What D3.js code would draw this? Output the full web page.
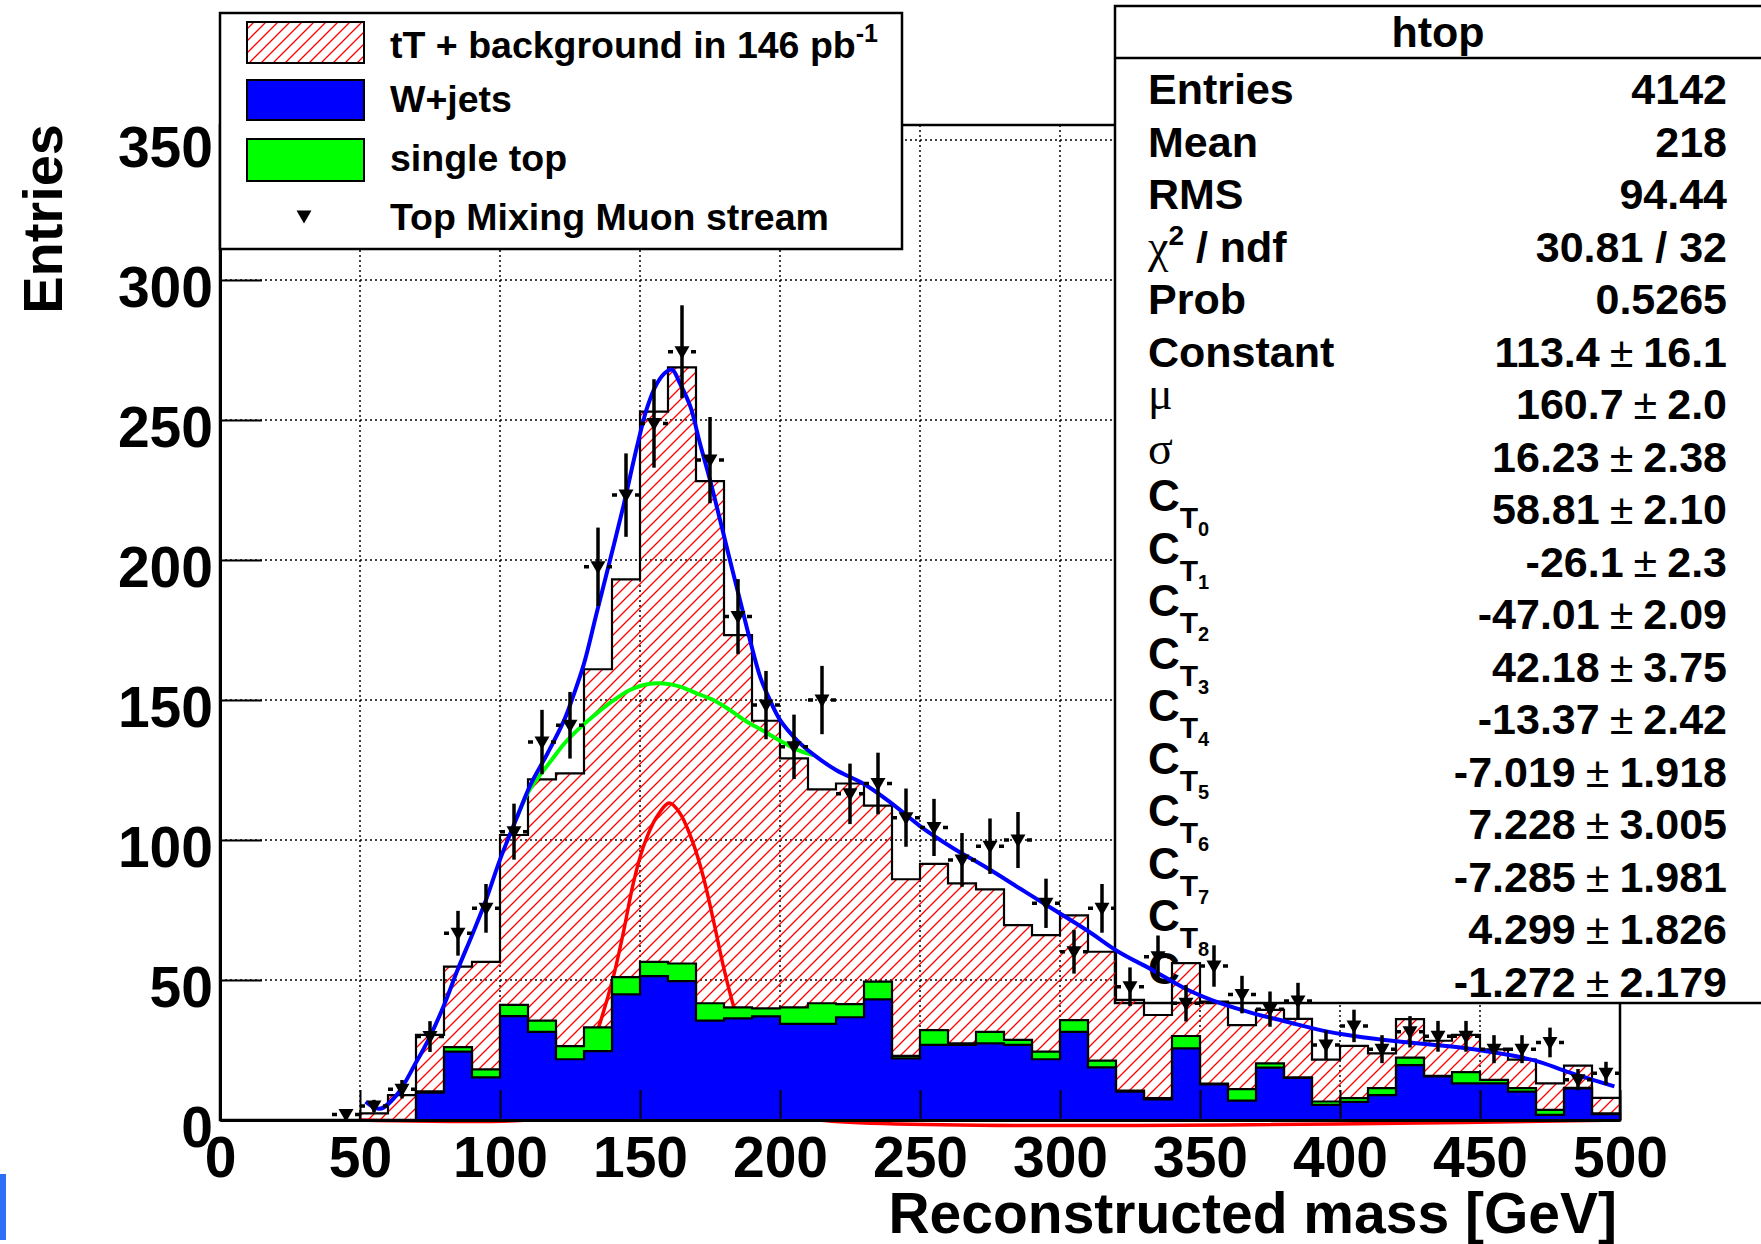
<!DOCTYPE html>
<html>
<head>
<meta charset="utf-8">
<script src="https://cdn.jsdelivr.net/npm/d3@7"></script>
<style>
  body { margin: 0; background: #fff; }
  svg { display: block; font-family: "Liberation Sans", Arial, Helvetica, sans-serif; font-weight: bold; }
</style>
</head>
<body>
<svg id="chart" width="1761" height="1244"></svg>
<script>
// histogram bins: low edges in GeV, 10 GeV wide
var binLow = [50, 60, 70, 80, 90, 100, 110, 120, 130, 140, 150, 160, 170, 180, 190,
  200, 210, 220, 230, 240, 250, 260, 270, 280, 290, 300, 310, 320, 330, 340,
  350, 360, 370, 380, 390, 400, 410, 420, 430, 440, 450, 460, 470, 480, 490];
var binWidth = 10;

// tT + background (hatched, total)
var ttTotal = [2.4, 8.9, 30.4, 54.8, 56.5, 101.8, 121.7, 123.8, 161, 193.1, 253, 268.8, 228.2, 173.2, 142.6,
  129.2, 118.1, 120.2, 112.3, 86, 91.5, 84.5, 82.4, 69.6, 66, 73.1, 60.1, 42.9, 37.5, 56,
  42.3, 33.9, 39.3, 36.1, 21.6, 26.5, 23.8, 36, 28.3, 30.4, 25.2, 21.6, 13.1, 19.4, 7.9];
// W+jets (blue)
var wJets = [0, 0, 9.8, 24.4, 15.2, 37.1, 31.5, 21.7, 24.6, 44.9, 51.4, 49.6, 35.5, 36.3, 37.0,
  34.3, 34.3, 36.7, 43.1, 22.0, 26.8, 26.8, 27.4, 26.8, 21.7, 31.5, 18.8, 10.1, 7.4, 25.6,
  12.7, 6.9, 18.7, 15.0, 5.4, 6.5, 8.9, 19.6, 15.6, 13.1, 13.1, 10.1, 1.8, 11.3, 2.1];
// single top (green, stacked on W+jets)
var singleTop = [0, 0, 0.4, 1.6, 2.9, 4.0, 4.0, 4.7, 8.5, 6.1, 5.1, 6.3, 6.2, 3.9, 2.9,
  5.9, 7.4, 4.7, 6.3, 0.9, 5.3, 0.6, 4.1, 1.8, 2.7, 4.2, 2.4, 0.4, 0.4, 4.4,
  0.3, 4.1, 1.5, 0.2, 1.2, 1.3, 2.5, 2.7, 0.2, 4.0, 1.2, 1.3, 1.8, 0.2, 0.3];

// Top Mixing Muon stream data points
var dataGeV = [45, 55, 65, 75, 85, 95, 105, 115, 125, 135, 145, 155, 165, 175, 185, 195,
  205, 215, 225, 235, 245, 255, 265, 275, 285, 295, 305, 315, 325, 335, 345, 355,
  365, 375, 385, 395, 405, 415, 425, 435, 445, 455, 465, 475, 485, 495];
var dataValues = [2, 5, 11, 29.8, 66.7, 75.6, 103, 135, 141, 197.6, 223.2, 248.8, 274.4, 235.7, 179.8, 148.2,
  133.3, 150, 116.5, 120.2, 108, 104.5, 92.9, 97.8, 100, 77.4, 60.1, 75.6, 47.6, 58.3, 41.7, 55,
  44.8, 39.6, 42.5, 26.8, 33.6, 25.3, 31.5, 29.9, 29.9, 25.3, 25.3, 27.7, 14.4, 16.7];
var dataErrors = [1.4, 2.2, 3.3, 5.5, 8, 8.7, 10, 11.5, 11.9, 14, 14.9, 15.8, 16.6, 15.4, 13.4, 12.2,
  11.5, 12.2, 10.8, 11, 10.4, 10.2, 9.6, 9.9, 10, 8.8, 7.8, 8.7, 6.9, 7.6, 6.5, 7.4,
  6.7, 6.3, 6.5, 5.2, 5.8, 5, 5.6, 5.5, 5.5, 5, 5, 5.3, 3.8, 4.1];

// total fit (blue)
var fitGeV = [52, 57, 63, 70, 75, 80, 85, 90, 95, 100, 106, 111, 117, 123, 126, 130, 134.5, 139.3, 144, 148.8,
  152.4, 156, 159.5, 161.5, 164.3, 168, 171.4, 175, 178.6, 182.1, 185.7, 189.3, 193, 196.4, 200, 206, 212,
  220, 230, 240, 250, 262, 274, 286, 298, 310, 321, 333, 345, 357, 369, 381, 393, 405, 421, 445, 469, 481, 498];
var fitValues = [6.5, 4, 8.8, 20.5, 29.8, 41, 54, 66, 78.6, 93, 108, 120, 131, 143, 151, 163, 181, 200, 219, 240,
  254, 263, 267.3, 268, 263, 254.8, 241.7, 228.6, 214.3, 200, 185.7, 171.4, 158, 150, 142.9, 135.7, 130.5,
  125, 120, 113, 105, 97, 90, 82.5, 75, 67.5, 60, 53.6, 46.8, 41.8, 38.1, 35.1, 32.1, 30, 28, 25.6, 21.4, 17.3, 12];
// background part of the fit (green)
var bkgGeV = [106, 110, 113, 118, 123, 129, 134.5, 140, 146.4, 151, 156, 161, 164.3, 170, 176.2, 182, 188.1, 194, 200, 206, 212];
var bkgValues = [108, 117, 121.5, 128, 134.5, 140.5, 145.2, 149.5, 153.6, 155.3, 156, 155.6, 154.8, 152.5, 150, 146.5, 142.3, 139, 135.5, 132.3, 130.3];
// gaussian signal part (red)
var sigGeV = [50, 110, 120, 128, 135.7, 140.5, 144, 147.6, 151.2, 156, 160.5, 164.3, 169, 172.6, 176.2, 179.8, 183.3, 190, 200, 212, 500];
var sigValues = [0, 0.1, 2.5, 13, 34.6, 51.2, 66.7, 84.5, 97.6, 108.3, 113.2, 109.5, 98.8, 86.9, 71.4, 54.8, 41.1, 20, 4, 0.3, 0];

var xTicks = [0, 50, 100, 150, 200, 250, 300, 350, 400, 450, 500];
var yTicks = [0, 50, 100, 150, 200, 250, 300, 350];

// stats box
var statNames = ["Entries", "Mean", "RMS", "chi2", "Prob", "Constant", "mu", "sigma",
  "C0", "C1", "C2", "C3", "C4", "C5", "C6", "C7", "C8", "last"];
var statValues = [["4142"], ["218"], ["94.44"], ["30.81 / 32"], ["0.5265"], ["113.4", "16.1"], ["160.7", "2.0"],
  ["16.23", "2.38"], ["58.81", "2.10"], ["-26.1", "2.3"], ["-47.01", "2.09"], ["42.18", "3.75"],
  ["-13.37", "2.42"], ["-7.019", "1.918"], ["7.228", "3.005"], ["-7.285", "1.981"], ["4.299", "1.826"], ["-1.272", "2.179"]];

var svg = d3.select("#chart");
var frame = {left: 220, right: 1620, top: 125, bottom: 1120};

var x = d3.scaleLinear().domain([0, 500]).range([frame.left, frame.right]);
var y = d3.scaleLinear().domain([0, 355.4]).range([frame.bottom, frame.top]);

svg.append("rect").attr("width", 1761).attr("height", 1244).attr("fill", "#fff");

var defs = svg.append("defs");
var hs = 12;
var hatch = defs.append("pattern")
  .attr("id", "hatch")
  .attr("patternUnits", "userSpaceOnUse")
  .attr("width", hs).attr("height", hs);
hatch.append("path")
  .attr("d", "M-2,2 L2,-2 M0," + hs + " L" + hs + ",0 M" + (hs - 2) + "," + (hs + 2) + " L" + (hs + 2) + "," + (hs - 2))
  .attr("stroke", "#ff0000").attr("stroke-width", 1.3);

// grid
var grid = svg.append("g").attr("stroke", "#000").attr("stroke-width", 1.5).attr("stroke-dasharray", "2,3");
grid.selectAll("line.v").data(xTicks.slice(1, -1)).enter().append("line")
  .attr("x1", function(d) { return x(d); }).attr("x2", function(d) { return x(d); })
  .attr("y1", frame.top).attr("y2", frame.bottom);
grid.selectAll("line.h").data(yTicks.slice(1)).enter().append("line")
  .attr("x1", frame.left).attr("x2", frame.right)
  .attr("y1", function(d) { return y(d); }).attr("y2", function(d) { return y(d); });

svg.append("rect")
  .attr("x", frame.left).attr("y", frame.top)
  .attr("width", frame.right - frame.left).attr("height", frame.bottom - frame.top)
  .attr("fill", "none").attr("stroke", "#000").attr("stroke-width", 2.5);

// stats box
var stats = svg.append("g");
stats.append("rect").attr("x", 1115).attr("y", 6).attr("width", 700).attr("height", 997)
  .attr("fill", "#fff").attr("stroke", "#000").attr("stroke-width", 2.5);
stats.append("line").attr("x1", 1115).attr("x2", 1761).attr("y1", 58).attr("y2", 58)
  .attr("stroke", "#000").attr("stroke-width", 2.5);
stats.append("text").attr("x", 1438).attr("y", 47).attr("text-anchor", "middle")
  .attr("font-size", 43).text("htop");

var rowY = function(i) { return 88.7 + 52.5 * i + 15.5; };
statNames.forEach(function(name, i) {
  var t = stats.append("text").attr("x", 1148).attr("y", rowY(i)).attr("font-size", 43);
  if (name === "chi2") {
    t.append("tspan").attr("font-family", "Liberation Serif").attr("font-weight", "normal").attr("font-size", 46).text("\u03c7");
    t.append("tspan").attr("font-size", 28).attr("dy", -17).text("2");
    t.append("tspan").attr("dy", 17).text(" / ndf");
  } else if (name === "mu") {
    t.attr("y", rowY(i) - 10).attr("font-family", "Liberation Serif").attr("font-weight", "normal").attr("font-size", 46).text("\u03bc");
  } else if (name === "sigma") {
    t.attr("y", rowY(i) - 8).attr("font-family", "Liberation Serif").attr("font-weight", "normal").attr("font-size", 46).text("\u03c3");
  } else if (name.charAt(0) === "C" && name.length === 2) {
    t.attr("y", rowY(i) - 13);
    t.append("tspan").attr("font-size", 44).text("C");
    t.append("tspan").attr("font-size", 30).attr("dy", 17).text("T");
    t.append("tspan").attr("font-size", 20).attr("dy", 8).text(name.charAt(1));
  } else if (name === "last") {
    // last label sits under the data, only its "C" shows
    t.attr("y", rowY(i) - 13).attr("font-size", 44).text("C");
  } else {
    t.text(name);
  }
});
statValues.forEach(function(v, i) {
  var t = stats.append("text").attr("x", 1727).attr("y", rowY(i)).attr("text-anchor", "end").attr("font-size", 43);
  t.append("tspan").text(v[0]);
  if (v.length > 1) {
    t.append("tspan").attr("dx", 10).attr("font-weight", "normal").text("\u00b1");
    t.append("tspan").attr("dx", 10).text(v[1]);
  }
});

// histograms
var bins = binLow.map(function(b, i) {
  return {x0: b, tot: ttTotal[i], wjets: wJets[i], stop: singleTop[i]};
});
var lastEdge = binLow[binLow.length - 1] + binWidth;

function stepArea(getV) {
  var pts = bins.map(function(d) { return [d.x0, getV(d)]; });
  pts.push([lastEdge, getV(bins[bins.length - 1])]);
  return d3.area().curve(d3.curveStepAfter)
    .x(function(p) { return x(p[0]); })
    .y0(y(0)).y1(function(p) { return y(p[1]); })(pts);
}

svg.append("path").attr("d", stepArea(function(d) { return d.tot; }))
  .attr("fill", "url(#hatch)").attr("stroke", "#000").attr("stroke-width", 2.2);

var line = d3.line().curve(d3.curveCatmullRom.alpha(0.5))
  .x(function(p) { return x(p[0]); }).y(function(p) { return y(p[1]); });

svg.append("path").attr("d", line(sigGeV.map(function(g, i) { return [g, sigValues[i]]; })))
  .attr("fill", "none").attr("stroke", "#ff0000").attr("stroke-width", 3.5);

// W+jets and single top stacked
var stacked = d3.stack().keys(["wjets", "stop"])(bins);
svg.append("path").attr("d", stepArea(function(d) { return d.wjets + d.stop; }))
  .attr("fill", "#00ff00").attr("stroke", "#000").attr("stroke-width", 2.2);
svg.append("path").attr("d", stepArea(function(d) { return d.wjets; }))
  .attr("fill", "#0000ff").attr("stroke", "#000").attr("stroke-width", 2.2);

// fit curves
svg.append("path").attr("d", line(bkgGeV.map(function(g, i) { return [g, bkgValues[i]]; })))
  .attr("fill", "none").attr("stroke", "#00ff00").attr("stroke-width", 4);
svg.append("path").attr("d", line(fitGeV.map(function(g, i) { return [g, fitValues[i]]; })))
  .attr("fill", "none").attr("stroke", "#0000ff").attr("stroke-width", 4);

// data points
var tri = "M-7.5,-5.5 L7.5,-5.5 L0,7.5 Z";
var pts = svg.append("g").selectAll("g").data(dataGeV).enter().append("g")
  .attr("transform", function(g, i) { return "translate(" + x(g) + "," + y(dataValues[i]) + ")"; });
pts.append("line")
  .attr("x1", 0).attr("x2", 0)
  .attr("y1", function(g, i) { return y(dataValues[i] + dataErrors[i]) - y(dataValues[i]); })
  .attr("y2", function(g, i) { return Math.min(y(Math.max(dataValues[i] - dataErrors[i], 0)) - y(dataValues[i]), 1120 - y(dataValues[i])); })
  .attr("stroke", "#000").attr("stroke-width", 3.5);
pts.append("path").attr("d", "M-14,0 L-9,0 M9,0 L14,0").attr("stroke", "#000").attr("stroke-width", 3.5);
pts.append("path").attr("d", tri).attr("fill", "#000");

// axes
var yAxis = d3.axisLeft(y).tickValues(yTicks).tickSize(-42).tickSizeOuter(0).tickPadding(7).tickFormat(d3.format("d"));
var gy = svg.append("g").attr("transform", "translate(" + frame.left + ",0)").call(yAxis);
gy.selectAll("text").attr("dy", "0.46em").attr("font-size", 57).attr("font-family", null).attr("font-weight", "bold");
var xAxis = d3.axisBottom(x).tickValues(xTicks).tickSize(-30).tickSizeOuter(0).tickPadding(17).tickFormat(d3.format("d"));
var gx = svg.append("g").attr("transform", "translate(0," + frame.bottom + ")").call(xAxis);
gx.selectAll("text").attr("font-size", 57).attr("font-family", null).attr("font-weight", "bold");
[gx, gy].forEach(function(g) {
  g.selectAll(".tick line").attr("stroke-width", 2);
  g.select(".domain").attr("stroke-width", 3);
});

svg.append("text").attr("x", 1617).attr("y", 1233).attr("text-anchor", "end")
  .attr("font-size", 57).text("Reconstructed mass [GeV]");
svg.append("text").attr("transform", "translate(62,124) rotate(-90)").attr("text-anchor", "end")
  .attr("font-size", 56).text("Entries");

// legend
var leg = svg.append("g");
leg.append("rect").attr("x", 220).attr("y", 13).attr("width", 682).attr("height", 236)
  .attr("fill", "#fff").attr("stroke", "#000").attr("stroke-width", 2.5);
var legItems = [
  {fill: "url(#hatch)", y0: 22, y1: 63},
  {fill: "#0000ff", y0: 80, y1: 120},
  {fill: "#00ff00", y0: 139, y1: 181}
];
legItems.forEach(function(it) {
  leg.append("rect").attr("x", 247).attr("y", it.y0).attr("width", 117).attr("height", it.y1 - it.y0)
    .attr("fill", it.fill).attr("stroke", "#000").attr("stroke-width", 2);
});
leg.append("path").attr("transform", "translate(304,216)").attr("d", tri).attr("fill", "#000");
var lt = leg.append("text").attr("x", 390).attr("y", 45 + 13).attr("font-size", 37.5);
lt.append("tspan").text("tT + background in 146 pb");
lt.append("tspan").attr("font-size", 25).attr("dy", -16).text("-1");
leg.append("text").attr("x", 390).attr("y", 99 + 13).attr("font-size", 37.5).text("W+jets");
leg.append("text").attr("x", 390).attr("y", 158 + 13).attr("font-size", 37.5).text("single top");
leg.append("text").attr("x", 390).attr("y", 217 + 13).attr("font-size", 37.5).text("Top Mixing Muon stream");

// small clipped logo piece at bottom-left corner
svg.append("rect").attr("x", 0).attr("y", 1174).attr("width", 6).attr("height", 66).attr("fill", "#2d6ff7");
</script>
</body>
</html>
